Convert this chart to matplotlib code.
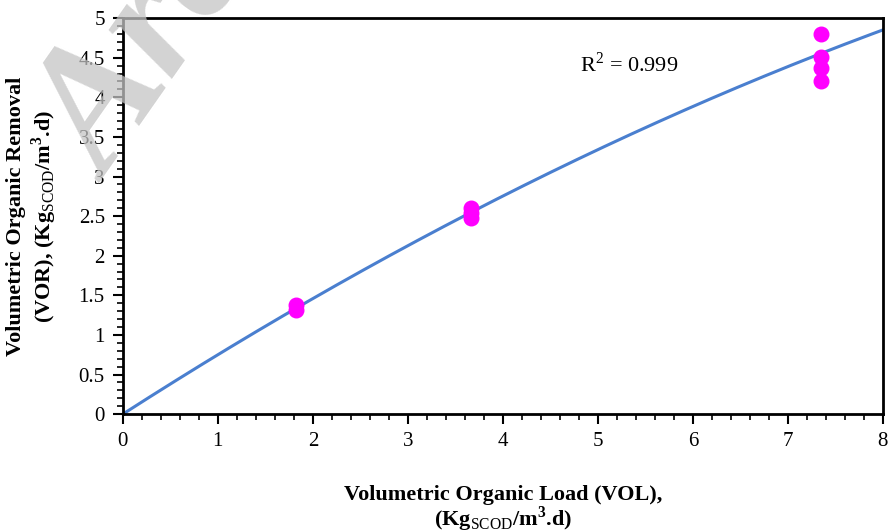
import matplotlib.pyplot as plt
import numpy as np
from matplotlib.ticker import MultipleLocator

plt.rcParams['font.family'] = 'Liberation Serif'
plt.rcParams['mathtext.fontset'] = 'custom'
plt.rcParams['mathtext.rm'] = 'Liberation Serif'
plt.rcParams['mathtext.bf'] = 'Liberation Serif:bold'

# measured points
vol = [1.82, 1.82, 3.67, 3.67, 3.67, 7.35, 7.35, 7.35, 7.35]
vor = [1.38, 1.32, 2.60, 2.54, 2.48, 4.80, 4.51, 4.37, 4.20]

# trend line
trend_x = [0, 1, 2, 3, 4, 5, 6, 7, 8]
trend_y = [0, 0.75, 1.46, 2.13, 2.75, 3.34, 3.88, 4.39, 4.85]

fig = plt.figure(figsize=(8.9, 5.31), dpi=100)
ax = fig.add_axes([0.138, 0.220, 0.854, 0.746])

coef = np.polyfit(trend_x, trend_y, 2)
xs = np.linspace(0, 8, 200)
ax.plot(xs, np.polyval(coef, xs), color='#4a7fcf', lw=2.2, zorder=2)
ax.scatter(vol, vor, s=110, color='#ff00ff', zorder=3)

ax.text(4.81, 4.41, r'R$^{2}$ = 0.999', fontsize=16, va='center')

ax.set_xlim(0, 8)
ax.set_ylim(0, 5)
ax.xaxis.set_major_locator(MultipleLocator(1))
ax.xaxis.set_minor_locator(MultipleLocator(0.2))
ax.yaxis.set_major_locator(MultipleLocator(0.5))
ax.yaxis.set_minor_locator(MultipleLocator(0.1))
ax.yaxis.set_major_formatter(plt.FuncFormatter(lambda v, p: '{:g}'.format(v)))
ax.tick_params(which='major', direction='out', length=7, width=1.5, labelsize=15, pad=6)
ax.tick_params(which='minor', direction='out', length=4, width=1.2)
for s in ax.spines.values():
    s.set_linewidth(2)

ax.set_xlabel('Volumetric Organic Load (VOL),\n(Kg$_{\\mathrm{SCOD}}$/m$^{\\mathbf{3}}$.d)',
              fontsize=16, fontweight='bold', labelpad=24, linespacing=1.0)
ax.set_ylabel('Volumetric Organic Removal\n(VOR), (Kg$_{\\mathrm{SCOD}}$/m$^{\\mathbf{3}}$.d)',
              fontsize=16, fontweight='bold', labelpad=14, linespacing=1.15)

# watermark
fig.text(0.01, 0.685, 'Archive of SID', fontsize=125, fontstyle='italic', fontweight='bold',
         color='#c4c4c4', rotation=55, ha='left', va='baseline',
         alpha=0.75, zorder=0)

plt.savefig('out.png', dpi=100)
